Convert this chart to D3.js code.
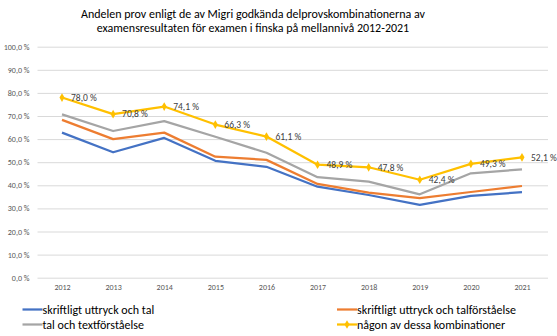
<!DOCTYPE html>
<html>
<head>
<meta charset="utf-8">
<script src="https://cdn.jsdelivr.net/npm/d3@7"></script>
<style>
  html, body { margin: 0; padding: 0; background: #fff; }
  svg { display: block; }
  text { font-family: "Liberation Sans Narrow", Carlito, Calibri, "Open Sans", sans-serif; }
</style>
</head>
<body>
<svg id="chart" width="557" height="336"></svg>
<script>
// Years on the x axis
const years = ["2012","2013","2014","2015","2016","2017","2018","2019","2020","2021"];

// Share of exams (%) per accepted sub-test combination
const skriftligtTal = [62.8, 54.3, 60.5, 50.6, 48.0, 39.4, 35.8, 31.5, 35.4, 37.0];
const skriftligtTalforstaelse = [68.3, 60.0, 62.8, 52.4, 51.0, 40.6, 36.8, 34.4, 37.1, 39.7];
const talTextforstaelse = [70.7, 63.5, 67.8, 61.0, 54.1, 43.5, 41.6, 36.1, 45.2, 46.9];
const nagonKombination = [78.0, 70.8, 74.1, 66.3, 61.1, 48.9, 47.8, 42.4, 49.3, 52.1];

// Y axis ticks
const yTicks = [0, 10, 20, 30, 40, 50, 60, 70, 80, 90, 100];

const titleLines = [
  "Andelen prov enligt de av Migri godkända delprovskombinationerna av",
  "examensresultaten för examen i finska på mellannivå 2012-2021"
];

const series = [
  { name: "skriftligt uttryck och tal", values: skriftligtTal, color: "#4472C4" },
  { name: "skriftligt uttryck och talförståelse", values: skriftligtTalforstaelse, color: "#ED7D31" },
  { name: "tal och textförståelse", values: talTextforstaelse, color: "#A5A5A5" },
  { name: "någon av dessa kombinationer", values: nagonKombination, color: "#FFC000", markers: true, labels: true }
];

const fmt = v => d3.format(".1f")(v).replace(".", ",") + " %";

const svg = d3.select("#chart");

const gridLeft = 37.5, gridRight = 548;
const x = d3.scalePoint().domain(years).range([62, 522]);
const y = d3.scaleLinear().domain([0, 100]).range([277.7, 46.7]);

// Title
svg.append("g").selectAll("text").data(titleLines).join("text")
  .attr("x", 253)
  .attr("y", (d, i) => 17.5 + i * 14)
  .attr("text-anchor", "middle")
  .attr("font-size", 12)
  .attr("fill", "#000")
  .text(d => d);

// Horizontal gridlines and y tick labels
const yAxis = d3.axisLeft(y)
  .tickValues(yTicks)
  .tickSize(-(gridRight - gridLeft))
  .tickPadding(8)
  .tickFormat(fmt);
const gy = svg.append("g").attr("transform", `translate(${gridLeft},0)`).call(yAxis);
gy.select(".domain").remove();
gy.selectAll(".tick line").attr("stroke", "#d9d9d9").attr("stroke-width", 1);
gy.selectAll(".tick text").attr("fill", "#595959").attr("font-size", 8);

// X axis labels
const xAxis = d3.axisBottom(x).tickSize(0).tickPadding(7);
const gx = svg.append("g").attr("transform", `translate(0,${y(0)})`).call(xAxis);
gx.select(".domain").remove();
gx.selectAll(".tick text").attr("fill", "#595959").attr("font-size", 8);

// Lines
const line = d3.line().x((d, i) => x(years[i])).y(d => y(d));
svg.append("g").selectAll("path").data(series).join("path")
  .attr("d", s => line(s.values))
  .attr("fill", "none")
  .attr("stroke", s => s.color)
  .attr("stroke-width", 2.25)
  .attr("stroke-linejoin", "round");

// Markers and value labels
series.filter(s => s.markers).forEach(s => {
  svg.append("g").selectAll("path").data(s.values).join("path")
    .attr("d", d3.symbol(d3.symbolDiamond, 22))
    .attr("transform", (d, i) => `translate(${x(years[i])},${y(d)})`)
    .attr("fill", s.color);
  svg.append("g").selectAll("text").data(s.values).join("text")
    .attr("x", (d, i) => x(years[i]) + 9)
    .attr("y", d => y(d))
    .attr("dy", "0.35em")
    .attr("font-size", 9.5)
    .attr("fill", "#404040")
    .text(fmt);
});

// Legend
const legendPos = [
  { x: 22.5, y: 309.5 },
  { x: 337, y: 309.5 },
  { x: 22.5, y: 324.5 },
  { x: 337, y: 324.5 }
];
const lg = svg.append("g").selectAll("g").data(series).join("g")
  .attr("transform", (d, i) => `translate(${legendPos[i].x},${legendPos[i].y})`);
lg.append("line")
  .attr("x1", 0).attr("x2", 20).attr("y1", 0).attr("y2", 0)
  .attr("stroke", d => d.color).attr("stroke-width", 2.25);
lg.filter(d => d.markers).append("path")
  .attr("d", d3.symbol(d3.symbolDiamond, 22))
  .attr("transform", "translate(10,0)")
  .attr("fill", d => d.color);
lg.append("text")
  .attr("x", 20).attr("y", 0).attr("dy", "0.35em")
  .attr("font-size", 12)
  .attr("fill", "#000")
  .text(d => d.name);
</script>
</body>
</html>
